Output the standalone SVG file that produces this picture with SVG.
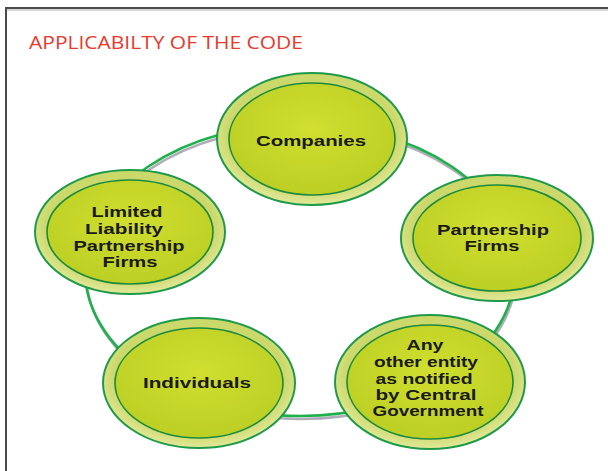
<svg xmlns="http://www.w3.org/2000/svg" width="608" height="471" viewBox="0 0 608 471">
  <defs>
    <radialGradient id="gOuter" cx="50%" cy="45%" r="55%">
      <stop offset="0.80" stop-color="#cbd86a"/>
      <stop offset="1" stop-color="#e2e99a"/>
    </radialGradient>
    <radialGradient id="gInner" cx="50%" cy="40%" r="60%">
      <stop offset="0" stop-color="#d0df30"/>
      <stop offset="1" stop-color="#bccf24"/>
    </radialGradient>
    <style>
      .outer { fill: url(#gOuter); stroke: #1f9a49; stroke-width: 2; }
      .inner { fill: url(#gInner); stroke: #1b8a3f; stroke-width: 1.6; }
      .lbl { font-family: "Liberation Sans", Arial, sans-serif; font-weight: bold; font-size: 15.5px; fill: #1a1a1a; text-anchor: middle; }
      .title { font-family: "Open Sans", "Liberation Sans", sans-serif; font-size: 18.5px; fill: #e8392d; }
    </style>
  </defs>

  <rect x="0" y="0" width="608" height="471" fill="#ffffff"/>
  <!-- frame -->
  <line x1="5" y1="8" x2="608" y2="8" stroke="#4a4a4a" stroke-width="2"/>
  <line x1="5" y1="10" x2="608" y2="10" stroke="#b0b0b0" stroke-width="1"/>
  <line x1="6" y1="7" x2="6" y2="471" stroke="#4a4a4a" stroke-width="2"/>

  <text class="title" x="29" y="49" textLength="274" lengthAdjust="spacingAndGlyphs">APPLICABILTY OF THE CODE</text>

  <g id="connectors">
    <ellipse cx="301" cy="273" rx="215" ry="146" fill="none" stroke="#9a98a8" stroke-width="2.5" opacity="0.8"/>
    <ellipse cx="300" cy="270" rx="215" ry="146" fill="none" stroke="#1eb04b" stroke-width="2.6"/>
  </g>

  <g id="companies">
    <ellipse class="outer" cx="312" cy="139" rx="95" ry="66"/>
    <ellipse class="inner" cx="312" cy="139" rx="83" ry="56"/>
    <text class="lbl" x="311" y="146" textLength="110" lengthAdjust="spacingAndGlyphs">Companies</text>
  </g>

  <g id="llp">
    <ellipse class="outer" cx="130" cy="232" rx="95" ry="62"/>
    <ellipse class="inner" cx="130" cy="232" rx="83" ry="52"/>
    <text class="lbl" x="127" y="217" textLength="71" lengthAdjust="spacingAndGlyphs">Limited</text>
    <text class="lbl" x="124" y="234" textLength="78" lengthAdjust="spacingAndGlyphs">Liability</text>
    <text class="lbl" x="129" y="251" textLength="111" lengthAdjust="spacingAndGlyphs">Partnership</text>
    <text class="lbl" x="130" y="267" textLength="55" lengthAdjust="spacingAndGlyphs">Firms</text>
  </g>

  <g id="partnership">
    <ellipse class="outer" cx="497" cy="238" rx="96" ry="63"/>
    <ellipse class="inner" cx="497" cy="238" rx="84" ry="53"/>
    <text class="lbl" x="493" y="235" textLength="112" lengthAdjust="spacingAndGlyphs">Partnership</text>
    <text class="lbl" x="492" y="251" textLength="55" lengthAdjust="spacingAndGlyphs">Firms</text>
  </g>

  <g id="individuals">
    <ellipse class="outer" cx="199" cy="383" rx="96" ry="65"/>
    <ellipse class="inner" cx="199" cy="383" rx="84" ry="55"/>
    <text class="lbl" x="197" y="388" textLength="108" lengthAdjust="spacingAndGlyphs">Individuals</text>
  </g>

  <g id="other">
    <ellipse class="outer" cx="430" cy="382" rx="95" ry="67"/>
    <ellipse class="inner" cx="430" cy="382" rx="83" ry="57"/>
    <text class="lbl" x="425" y="350" textLength="37" lengthAdjust="spacingAndGlyphs">Any</text>
    <text class="lbl" x="426" y="367" textLength="104" lengthAdjust="spacingAndGlyphs">other entity</text>
    <text class="lbl" x="424" y="384" textLength="97" lengthAdjust="spacingAndGlyphs">as notified</text>
    <text class="lbl" x="426" y="400" textLength="101" lengthAdjust="spacingAndGlyphs">by Central</text>
    <text class="lbl" x="428" y="416" textLength="111" lengthAdjust="spacingAndGlyphs">Government</text>
  </g>
</svg>
